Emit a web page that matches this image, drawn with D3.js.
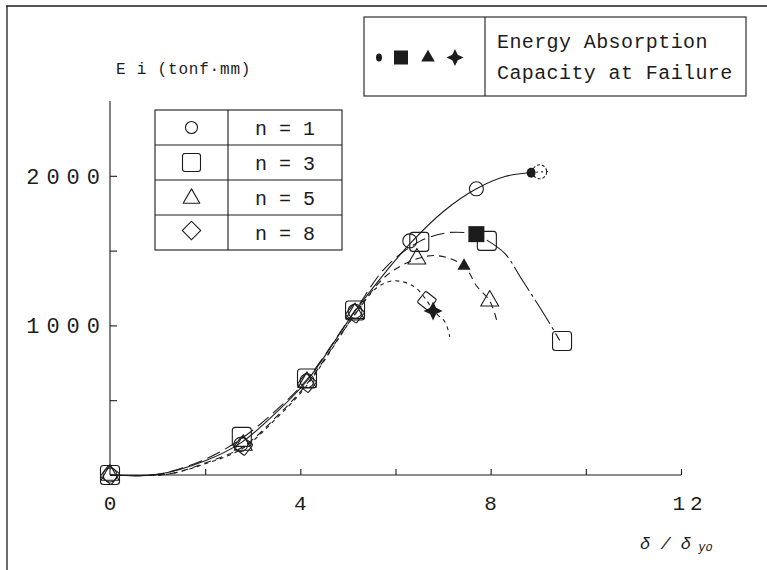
<!DOCTYPE html>
<html><head><meta charset="utf-8">
<script src="https://cdn.jsdelivr.net/npm/d3@7"></script>
<style>body{margin:0;background:#fff}svg{display:block}</style></head>
<body><svg id="c" width="767" height="570"></svg>
<script>
// ---------- data ----------
const xTicks = [2, 4, 6, 8, 10, 12];
const xLabels = [0, 4, 8, 12];
const yTicks = [500, 1000, 1500, 2000];
const yLabels = [1000, 2000];
const seriesNames = ["n = 1", "n = 3", "n = 5", "n = 8"];
const legendTitle = ["Energy Absorption", "Capacity at Failure"];

// curve traces  [δ/δyo, Ei]
const traceN1 = [[0,0],[1,4],[2,95],[2.75,215],[3.5,420],[4.14,630],[5.15,1095],[5.8,1360],[6.3,1545],[7.0,1760],[7.7,1913],[8.3,1995],[8.85,2022]];
const traceN1post = [[8.85,2022],[9.25,2030]];
const traceN3a = [[0,0],[1,4],[2,105],[2.77,245],[3.5,435],[4.14,640],[5.15,1100],[5.8,1390],[6.5,1560],[7.1,1620],[7.7,1615]];
const traceN3b = [[7.92,1570],[8.3,1480],[8.67,1300],[9.18,1045],[9.45,900]];
const traceN5 = [[0,0],[1.2,5],[2,80],[2.8,190],[3.5,390],[4.14,610],[5.15,1075],[5.8,1330],[6.45,1445],[6.9,1465],[7.44,1398],[7.7,1265],[7.98,1164],[8.13,1030]];
const traceN8 = [[0,0],[1.2,5],[2,75],[2.8,180],[3.5,380],[4.14,600],[5.15,1075],[5.6,1250],[5.95,1298],[6.37,1264],[6.66,1165],[6.79,1097],[7.04,1023],[7.14,923]];

// measured points
const circles = [[0,0],[2.75,205],[4.14,630],[5.15,1095],[6.3,1565],[7.7,1913]];
const circlePost = [[9.03,2027]];
const squares = [[0,0],[2.77,255],[4.14,645],[5.15,1100],[6.5,1558],[7.92,1565],[9.5,896]];
const triangles = [[0,0],[2.8,200],[4.14,620],[5.15,1080],[6.45,1445],[7.98,1164]];
const diamonds = [[0,0],[2.8,195],[4.14,615],[5.15,1080],[6.66,1164]];
const failCircle = [[8.85,2020]];
const failSquare = [[7.7,1610]];
const failTriangle = [[7.44,1398]];
const failStar = [[6.79,1097]];

// ---------- drawing ----------
const svg = d3.select("#c");
const ink = "#1c1c1c";
const mono = "'Liberation Mono','DejaVu Sans Mono',monospace";

const x = d3.scaleLinear().domain([0, 12]).range([110, 681]);
const y = d3.scaleLinear().domain([0, 2500]).range([475, 101]);

// outer frame (scan border)
svg.append("line").attr("x1",6).attr("x2",767).attr("y1",6).attr("y2",6).attr("stroke",ink).attr("stroke-width",1.3);
svg.append("line").attr("x1",7).attr("x2",7).attr("y1",6).attr("y2",570).attr("stroke",ink).attr("stroke-width",1.3);

// axes
const gx = svg.append("g").attr("transform", `translate(0,${y(0)})`)
  .call(d3.axisTop(x).tickValues(xTicks).tickSize(6).tickFormat(""));
gx.select(".domain").attr("d", `M${x(0)},0H${x(12)}`);
const gy = svg.append("g").attr("transform", `translate(${x(0)},0)`)
  .call(d3.axisRight(y).tickValues(yTicks).tickSize(7).tickFormat(""));
gy.select(".domain").attr("d", `M0,${y(2500)}V${y(0)}`);
svg.selectAll(".domain, .tick line").attr("stroke", ink).attr("stroke-width", 1.1);

// tick labels
svg.selectAll(".xl").data(xLabels).join("text")
  .attr("x", d => d >= 10 ? x(d) + 9 : x(d)).attr("y", y(0) + 35)
  .attr("text-anchor", "middle").attr("font-family", mono).attr("font-size", 21)
  .attr("letter-spacing", d => d >= 10 ? 5 : 0).attr("fill", ink)
  .text(d => String(d));
svg.selectAll(".yl").data(yLabels).join("text")
  .attr("x", x(0) - 3).attr("y", d => y(d) + 8)
  .attr("text-anchor", "end").attr("font-family", mono).attr("font-size", 22)
  .attr("letter-spacing", 7).attr("fill", ink)
  .text(d => String(d));

// axis titles
svg.append("text").attr("x", 116).attr("y", 74).attr("font-family", mono)
  .attr("font-size", 16).attr("letter-spacing", 0.8).attr("fill", ink)
  .text("E i (tonf·mm)");
const xt = svg.append("text").attr("x", 640).attr("y", 549).attr("font-family", mono)
  .attr("font-size", 17).attr("font-style", "italic").attr("fill", ink);
xt.append("tspan").text("δ / δ");
xt.append("tspan").attr("font-size", 12).attr("dy", 2).text(" yo");

// lines
const line = d3.line().x(d => x(d[0])).y(d => y(d[1])).curve(d3.curveCatmullRom.alpha(0.5));
function path(data, dash, w) {
  svg.append("path").attr("d", line(data)).attr("fill", "none")
    .attr("stroke", ink).attr("stroke-width", w || 1.1).attr("stroke-dasharray", dash);
}
path(traceN8, "4,4");
path(traceN5, "7,5");
path(traceN3a, "14,6");
path(traceN3b, "28,4,3,4");
path(traceN1, null);
path(traceN1post, "2,3");

// marker shapes
const sq = 19;
function drawCircles(data, dash) {
  svg.selectAll(null).data(data).join("circle")
    .attr("cx", d => x(d[0])).attr("cy", d => y(d[1])).attr("r", 7)
    .attr("fill", "none").attr("stroke", ink).attr("stroke-width", 1.1)
    .attr("stroke-dasharray", dash);
}
function drawSquares(data) {
  svg.selectAll(null).data(data).join("rect")
    .attr("x", d => x(d[0]) - sq/2).attr("y", d => y(d[1]) - sq/2)
    .attr("width", sq).attr("height", sq).attr("rx", 3)
    .attr("fill", "none").attr("stroke", ink).attr("stroke-width", 1.1);
}
const triSym = d3.symbol().type(d3.symbolTriangle).size(140);
function drawTriangles(data) {
  svg.selectAll(null).data(data).join("path")
    .attr("d", triSym).attr("transform", d => `translate(${x(d[0])},${y(d[1])})`)
    .attr("fill", "none").attr("stroke", ink).attr("stroke-width", 1.1).attr("stroke-linejoin", "round");
}
function drawDiamonds(data) {
  svg.selectAll(null).data(data).join("rect")
    .attr("x", -7).attr("y", -7).attr("width", 14).attr("height", 14).attr("rx", 1.5)
    .attr("transform", d => `translate(${x(d[0])},${y(d[1])}) rotate(38)`)
    .attr("fill", "none").attr("stroke", ink).attr("stroke-width", 1.1);
}
const star4 = { draw(ctx, size) {
  const r = Math.sqrt(size) * 0.75, s = r * 0.32;
  ctx.moveTo(0, -r); ctx.lineTo(s, -s); ctx.lineTo(r, 0); ctx.lineTo(s, s);
  ctx.lineTo(0, r); ctx.lineTo(-s, s); ctx.lineTo(-r, 0); ctx.lineTo(-s, -s); ctx.closePath();
}};

drawCircles(circles, null);
drawCircles(circlePost, "3,2");
drawSquares(squares);
drawTriangles(triangles);
drawDiamonds(diamonds);

// failure markers (filled)
svg.selectAll(null).data(failCircle).join("ellipse")
  .attr("cx", d => x(d[0])).attr("cy", d => y(d[1])).attr("rx", 4.5).attr("ry", 5).attr("fill", ink);
svg.selectAll(null).data(failSquare).join("rect")
  .attr("x", d => x(d[0]) - 8).attr("y", d => y(d[1]) - 8).attr("width", 16).attr("height", 16).attr("fill", ink);
svg.selectAll(null).data(failTriangle).join("path")
  .attr("d", d3.symbol().type(d3.symbolTriangle).size(75))
  .attr("transform", d => `translate(${x(d[0])},${y(d[1])})`).attr("fill", ink);
svg.selectAll(null).data(failStar).join("path")
  .attr("d", d3.symbol().type(star4).size(160))
  .attr("transform", d => `translate(${x(d[0])},${y(d[1])})`).attr("fill", ink);

// ---------- series legend table ----------
const tb = { x0: 155, x1: 342, xm: 228, y0: 110, rh: 35 };
const tg = svg.append("g").attr("stroke", ink).attr("stroke-width", 1.1).attr("fill", "none");
tg.append("rect").attr("x", tb.x0).attr("y", tb.y0).attr("width", tb.x1 - tb.x0).attr("height", tb.rh * 4);
tg.append("line").attr("x1", tb.xm).attr("x2", tb.xm).attr("y1", tb.y0).attr("y2", tb.y0 + tb.rh * 4);
[1, 2, 3].forEach(i => tg.append("line").attr("x1", tb.x0).attr("x2", tb.x1)
  .attr("y1", tb.y0 + tb.rh * i).attr("y2", tb.y0 + tb.rh * i));
const cx = (tb.x0 + tb.xm) / 2;
seriesNames.forEach((name, i) => {
  const cy = tb.y0 + tb.rh * (i + 0.5);
  if (i === 0) tg.append("circle").attr("cx", cx).attr("cy", cy).attr("r", 6);
  if (i === 1) tg.append("rect").attr("x", cx - 9).attr("y", cy - 9).attr("width", 18).attr("height", 18).attr("rx", 2.5);
  if (i === 2) tg.append("path").attr("d", d3.symbol().type(d3.symbolTriangle).size(120)()).attr("transform", `translate(${cx},${cy + 1})`).attr("stroke-linejoin", "round");
  if (i === 3) tg.append("rect").attr("x", -6.5).attr("y", -6.5).attr("width", 13).attr("height", 13).attr("transform", `translate(${cx},${cy - 2}) rotate(45)`);
  svg.append("text").attr("x", (tb.xm + tb.x1) / 2).attr("y", cy + 7)
    .attr("text-anchor", "middle").attr("font-family", mono).attr("font-size", 20)
    .attr("fill", ink).attr("xml:space", "preserve").text(name);
});

// ---------- failure legend box ----------
const lb = { x0: 364, x1: 746, xm: 485, y0: 17, y1: 96 };
svg.append("rect").attr("x", lb.x0).attr("y", lb.y0).attr("width", lb.x1 - lb.x0).attr("height", lb.y1 - lb.y0)
  .attr("fill", "none").attr("stroke", ink).attr("stroke-width", 1.1);
svg.append("line").attr("x1", lb.xm).attr("x2", lb.xm).attr("y1", lb.y0).attr("y2", lb.y1)
  .attr("stroke", ink).attr("stroke-width", 1.1);
const ly = (lb.y0 + lb.y1) / 2 + 1;
svg.append("ellipse").attr("cx", 379).attr("cy", ly).attr("rx", 3).attr("ry", 4).attr("fill", ink);
svg.append("rect").attr("x", 394).attr("y", ly - 7).attr("width", 14).attr("height", 14).attr("fill", ink);
svg.append("path").attr("d", d3.symbol().type(d3.symbolTriangle).size(80)()).attr("transform", `translate(428,${ly})`).attr("fill", ink);
svg.append("path").attr("d", d3.symbol().type(star4).size(130)()).attr("transform", `translate(455,${ly})`).attr("fill", ink);
legendTitle.forEach((t, i) => {
  svg.append("text").attr("x", 497).attr("y", 48 + i * 31).attr("font-family", mono)
    .attr("font-size", 20).attr("letter-spacing", 0.4).attr("fill", ink).text(t);
});
</script></body></html>
